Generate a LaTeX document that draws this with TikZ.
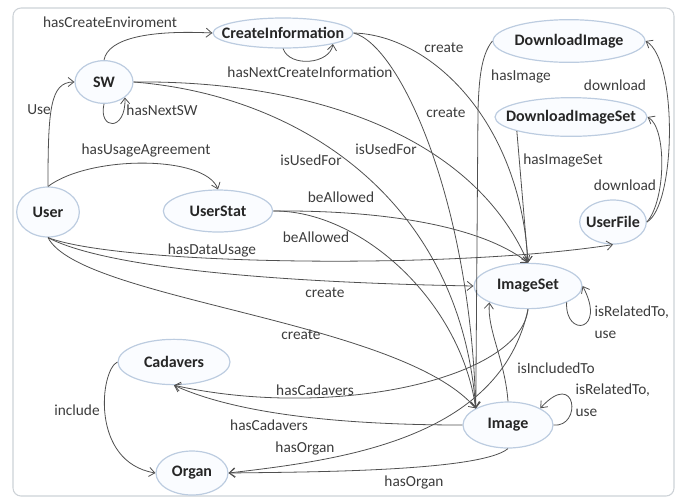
\documentclass[tikz,border=0pt]{standalone}
\usepackage{fontspec}
\setmainfont{Carlito}
\usepackage{xcolor}
\usepackage{tikz}
\usetikzlibrary{arrows.meta,shapes.geometric}
\definecolor{entline}{RGB}{188,204,224}
\definecolor{entfill}{RGB}{250,252,255}
\definecolor{relcol}{RGB}{80,80,80}
\definecolor{lblcol}{RGB}{60,60,60}
\definecolor{framecol}{RGB}{205,210,215}
\newcommand{\entname}[1]{\makebox[0pt]{#1}}
\tikzset{
  ent/.style={ellipse, draw=entline, line width=0.9pt, fill=entfill, inner sep=0pt, font=\fontsize{12}{14}\selectfont\bfseries, text=black!85},
  lbl/.style={font=\fontsize{11.5}{17}\selectfont, text=lblcol, inner sep=1pt},
  rel/.style={-{Straight Barb[length=1.5mm,width=2.4mm]}, line width=0.6pt, draw=relcol},
}
\begin{document}
\begin{tikzpicture}[x=0.75pt,y=-0.75pt]
    \useasboundingbox (0,0) rectangle (682,501);
    \draw[framecol, line width=0.8pt, rounded corners=6pt] (13,8) rectangle (674,496);
    % entities
    \node[ent, minimum width=105pt, minimum height=22.5pt] (ci) at (283,33) {\entname{CreateInformation}};
    \node[ent, minimum width=43.5pt, minimum height=32pt] (sw) at (104,82) {\entname{SW}};
    \node[ent, minimum width=114pt, minimum height=32pt] (dl) at (569,41) {\entname{DownloadImage}};
    \node[ent, minimum width=114pt, minimum height=29pt] (dls) at (571,117) {\entname{DownloadImageSet}};
    \node[ent, minimum width=47pt, minimum height=37.5pt] (user) at (48,212) {\entname{User}};
    \node[ent, minimum width=82pt, minimum height=31.5pt] (us) at (218,211) {\entname{UserStat}};
    \node[ent, minimum width=50pt, minimum height=33pt] (uf) at (613,222) {\entname{UserFile}};
    \node[ent, minimum width=81pt, minimum height=34pt] (is) at (528,286) {\entname{ImageSet}};
    \node[ent, minimum width=84pt, minimum height=34pt] (cad) at (174,362) {\entname{Cadavers}};
    \node[ent, minimum width=67.5pt, minimum height=34.5pt] (im) at (508,425) {\entname{Image}};
    \node[ent, minimum width=54pt, minimum height=33pt] (org) at (192,473) {\entname{Organ}};
    % relations
    \draw[rel] (sw.north) .. controls (108,38) and (150,30) .. (ci.west);
    \draw[rel] (ci.south) .. controls (290,68) and (330,64) .. (ci.south east);
    \draw[rel] (sw.south) .. controls (98,130) and (126,132) .. (sw.south east);
    \draw[rel] (user.north) .. controls (48,110) and (50,82) .. (sw.west);
    \draw[rel] (user.north) .. controls (90,155) and (205,155) .. (us.north);
    \draw[rel] (user.south) .. controls (120,265) and (450,270) .. (uf.south);
    \draw[rel] (user.south) .. controls (100,265) and (250,282) .. (is.west);
    \draw[rel] (user.south) .. controls (80,300) and (400,320) .. (im.north west);
    \draw[rel] (sw.east) .. controls (300,80) and (470,130) .. (is.north);
    \draw[rel] (sw.east) .. controls (300,95) and (460,200) .. (im.north west);
    \draw[rel] (us.east) .. controls (380,210) and (480,225) .. (is.north);
    \draw[rel] (us.east) .. controls (360,210) and (460,300) .. (im.north west);
    \draw[rel] (ci.east) .. controls (430,35) and (520,120) .. (is.north);
    \draw[rel] (ci.east) .. controls (400,45) and (470,200) .. (im.north west);
    \draw[rel] (dl.west) .. controls (481,55) and (479,80) .. (478,110) -- (im.north west);
    \draw[rel] (dls.south west) -- (is.north);
    \draw[rel] (uf.east) .. controls (676,205) and (678,60) .. (dl.east);
    \draw[rel] (uf.east) .. controls (666,200) and (667,128) .. (dls.east);
    \draw[rel] (is.south east) .. controls (565,338) and (607,332) .. (is.east);
    \draw[rel] (im.east) .. controls (582,428) and (577,368) .. (im.north east);
    \draw[rel] (im.north) .. controls (505,360) and (487,330) .. (is.south west);
    \draw[rel] (is.south) .. controls (520,380) and (330,420) .. (cad.south);
    \draw[rel] (im.west) .. controls (380,425) and (250,420) .. (cad.south);
    \draw[rel] (is.south) .. controls (500,440) and (340,460) .. (org.east);
    \draw[rel] (im.south) .. controls (480,472) and (300,472) .. (org.east);
    \draw[rel] (cad.west) .. controls (100,370) and (90,462) .. (org.west);
    % labels
    \node[lbl] (lCreateEnv) at (110,22) {hasCreateEnviroment};
    \node[lbl] (lNextCI) at (310,72) {hasNextCreateInformation};
    \node[lbl] (lNextSW) at (162,110) {hasNextSW};
    \node[lbl] (lUse) at (39,110) {Use};
    \node[lbl] (lAgree) at (146,150) {hasUsageAgreement};
    \node[lbl] (lUsedIm) at (311,160) {isUsedFor};
    \node[lbl] (lUsedIs) at (386,149) {isUsedFor};
    \node[lbl] (lCreateA) at (444,48) {create};
    \node[lbl] (lCreateB) at (446,113) {create};
    \node[lbl] (lHasIm) at (521,76) {hasImage};
    \node[lbl] (lDownA) at (615,85) {download};
    \node[lbl] (lHasIs) at (563,160) {hasImageSet};
    \node[lbl] (lDownB) at (625,185) {download};
    \node[lbl] (lAllowA) at (341,197) {beAllowed};
    \node[lbl] (lAllowB) at (316,237) {beAllowed};
    \node[lbl] (lData) at (212,250) {hasDataUsage};
    \node[lbl] (lCreateC) at (325,293) {create};
    \node[lbl] (lCreateD) at (301,335) {create};
    \node[lbl, align=left, anchor=north west] (lRelIs) at (593,304) {isRelatedTo,\\use};
    \node[lbl] (lInclTo) at (556,368) {isIncludedTo};
    \node[lbl] (lCadA) at (315,390) {hasCadavers};
    \node[lbl] (lCadB) at (269,425) {hasCadavers};
    \node[lbl, align=left, anchor=north west] (lRelIm) at (574,382) {isRelatedTo,\\use};
    \node[lbl] (lOrgA) at (305,448) {hasOrgan};
    \node[lbl] (lOrgB) at (414,482) {hasOrgan};
    \node[lbl] (lInclude) at (77,410) {include};
\end{tikzpicture}
\end{document}
